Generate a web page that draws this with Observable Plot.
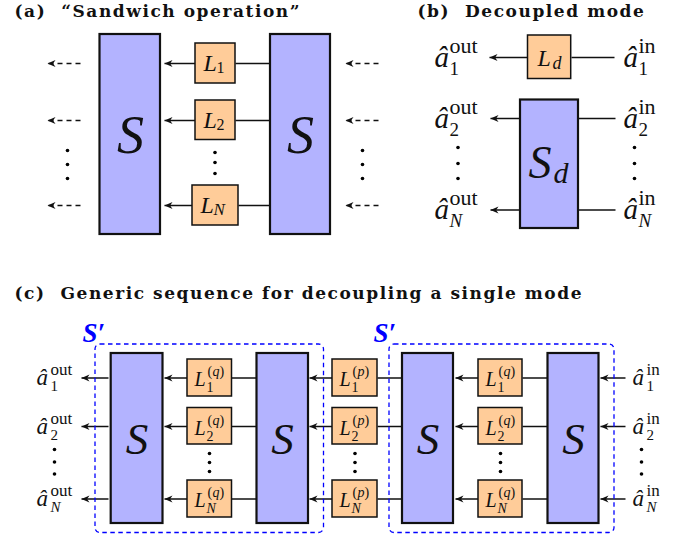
<!DOCTYPE html>
<html><head><meta charset="utf-8">
<style>html,body{margin:0;padding:0;background:#fff}svg{display:block}</style>
<script src="https://cdn.jsdelivr.net/npm/d3@7"></script>
<script src="https://cdn.jsdelivr.net/npm/@observablehq/plot@0.6"></script>
</head><body><div id="chart"></div>
<script>
const titles = [
  {x:14, y:16, t:"(a)  “Sandwich operation”"},
  {x:417, y:16, t:"(b)  Decoupled mode"},
  {x:14, y:298, t:"(c)  Generic sequence for decoupling a single mode"}
];
const rowsA = [63,120,205], rowsB = [57,118,209.5], rowsC = [377.5,426,498.5];
const subs = ["1","2","N"];
const blueBoxes = [
  [99.5,160,34,234],[270,330,34,234],[520,578,99.5,228],
  [110.7,162.5,353,523],[256.5,308,353,523],[402,453,353,523],[547.5,598.5,353,523]
];
const orangeBoxes = [
  [195,235,43,83],[195,235,100,139.5],[192,238,185,225],[527.5,570.7,35,78.5],
  ...[[187,231.5],[332,377],[478,522]].flatMap(([a,b]) => [[a,b,359,396],[a,b,407.5,444],[a,b,480,517]])
];
const dashedFrames = [[95,323.5,344,532.5],[389,614,344,532.5]];
const plainWires = [
  ...rowsA.map((y,i)=>[i==2?238:235,270,y]),
  [571,614,57],[578,615,118],[578,615,209.5],
  ...rowsC.flatMap(y=>[[231.5,256.5,y],[377,402,y],[522,547.5,y]])
];
const arrowWires = [
  ...rowsA.map((y,i)=>[i==2?192:195,164,y]),
  [527.5,489,57],[520,490,118],[520,490,209.5],
  ...rowsC.flatMap(y=>[[108,81,y],[187,164,y],[332,309,y],[478,455,y],[625,600,y]])
];
const dashedArrows = rowsA.flatMap(y=>[[80,47,y],[378,345,y]]);
const dotsPts = [
  ...[67,362].flatMap(x=>[150,164,178].map(y=>[x,y])),
  ...[152,162,173].map(y=>[214.5,y]),
  ...[457.5,634].flatMap(x=>[147,163,178].map(y=>[x,y])),
  ...[54,641].flatMap(x=>[449,461.5,473.5].map(y=>[x,y])),
  ...[209,354.5,500].flatMap(x=>[453,462,471].map(y=>[x,y]))
];
const bigS = [[130,135,54,"S"],[300,135,54,"S"],[136.5,439,45,"S"],[282,439,45,"S"],[427.5,439,45,"S"],[573,439,45,"S"]];

const ital = [], upright = [];
const put = (x,y,t,size) => (/^[A-Za-zâ]+$/.test(t) && !["out","in"].includes(t) ? ital : upright).push({x,y,t,size});
[[203,0],[203,1],[200,2]].forEach(([x,i])=>{ put(x,rowsA[i]+7,"L",24); put(x+13,rowsA[i]+9,subs[i],i==2?17:16); });
put(537,65,"L",24); put(552,68,"d",18);
put(528,177,"S",46); put(553,182,"d",30);
subs.forEach((s,i)=>{
  const y=rowsB[i];
  put(434,y+9,"â",29); put(449,y-5,"out",22); put(449,y+17,s,19);
  put(623,y+9,"â",29); put(638,y-5,"in",22); put(638,y+17,s,19);
  const w=rowsC[i];
  put(36,w+7,"â",23); put(50,w-3,"out",17); put(50,w+13,s,15);
  put(632,w+7,"â",23); put(646,w-3,"in",17); put(646,w+13,s,15);
});
[[194,"q"],[339,"p"],[485,"q"]].forEach(([x,q])=>subs.forEach((s,i)=>{
  const w=rowsC[i];
  put(x,w+8,"L",20); put(x+12,w+14,s,14);
  put(x+13,w-2,"(",14); put(x+18,w-2,q,14); put(x+25,w-2,")",14);
}));
const primes = [[82,341,"S′"],[373,341,"S′"]];

const sym = {draw(c,size){const k=Math.sqrt(size/Math.PI);
  c.moveTo(0,0);c.lineTo(2*k,-0.85*k);c.lineTo(1.4*k,0);c.lineTo(2*k,0.85*k);c.closePath();}};
const wire = {x1:d=>d[0],x2:d=>d[1],y1:d=>d[2],y2:d=>d[2],stroke:"#111",strokeWidth:1.5};
const box = (fill,sw)=>({x1:d=>d[0],x2:d=>d[1],y1:d=>d[2],y2:d=>d[3],fill,stroke:"#111",strokeWidth:sw});
const serif = "'Liberation Serif',serif";
const txt = (style,weight)=>({x:"x",y:"y",text:"t",fontSize:d=>d.size,fontFamily:serif,fontStyle:style,fontWeight:weight,
  textAnchor:"start",lineAnchor:"bottom",fill:"#111"});

const plot = Plot.plot({
  width:688,height:538,margin:0,
  x:{domain:[0,688],range:[0,688],axis:null},
  y:{domain:[0,538],range:[0,538],axis:null},
  style:{background:"#fff"},
  marks:[
    Plot.link(plainWires,wire),
    Plot.link(arrowWires,wire),
    Plot.link(dashedArrows,{...wire,strokeDasharray:"5,4"}),
    Plot.dot([...arrowWires,...dashedArrows],{x:d=>d[1],y:d=>d[2],r:4,symbol:sym,fill:"#111",stroke:"none"}),
    Plot.rect(blueBoxes,box("#b3b3ff",2.2)),
    Plot.rect(orangeBoxes,box("#ffcc99",1.5)),
    Plot.rect(dashedFrames,{x1:d=>d[0],x2:d=>d[1],y1:d=>d[2],y2:d=>d[3],fill:"none",stroke:"#0000ff",strokeWidth:1.3,strokeDasharray:"4.5,3.5",rx:5}),
    Plot.dot(dotsPts,{x:d=>d[0],y:d=>d[1],r:1.8,fill:"#000"}),
    Plot.text(bigS,{x:d=>d[0],y:d=>d[1],text:d=>d[3],fontSize:d=>d[2],fontFamily:serif,fontStyle:"italic",textAnchor:"middle",lineAnchor:"middle",fill:"#111"}),
    Plot.text(ital,txt("italic","normal")),
    Plot.text(upright,txt("normal","normal")),
    Plot.text(primes,{x:d=>d[0],y:d=>d[1],text:d=>d[2],fontSize:27,fontFamily:serif,fontStyle:"italic",fontWeight:"bold",textAnchor:"start",lineAnchor:"bottom",fill:"#0000ff"}),
    Plot.text(titles,{x:"x",y:"y",text:"t",fontSize:17,fontFamily:"'DejaVu Serif',serif",fontWeight:"bold",textAnchor:"start",lineAnchor:"bottom",fill:"#111"})
  ]
});
plot.querySelectorAll("text").forEach(n=>{ if(titles.some(t=>t.t===n.textContent)) n.style.letterSpacing="1.55px"; });
document.getElementById("chart").append(plot);
</script></body></html>
